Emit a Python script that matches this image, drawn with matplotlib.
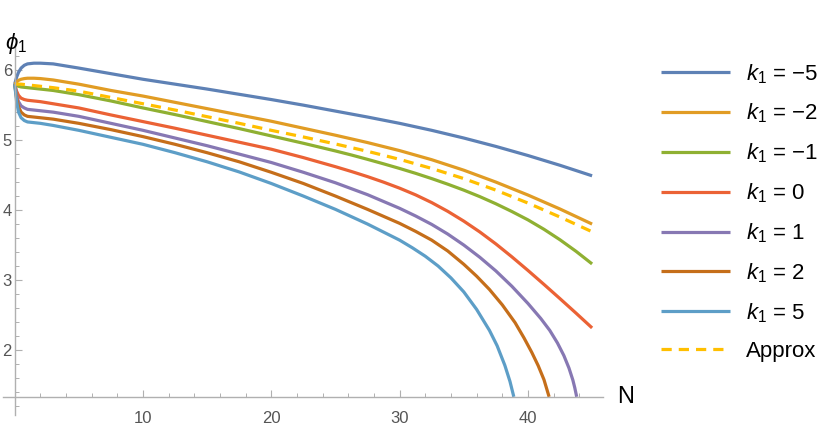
import matplotlib
matplotlib.use("Agg")
import matplotlib.pyplot as plt
from matplotlib.ticker import MultipleLocator

plt.rcParams['font.family'] = ['Liberation Sans', 'DejaVu Sans']
plt.rcParams['mathtext.fontset'] = 'custom'
plt.rcParams['mathtext.rm'] = 'Liberation Sans'
plt.rcParams['mathtext.it'] = 'Liberation Sans:italic'

# ---- data ----
N_main = [0, 0.15, 0.3, 0.5, 0.75, 1, 1.5, 2, 3, 5, 7.5, 10, 12.5, 15, 17.5, 20,
          22.5, 25, 27.5, 30, 32.5, 35, 37.5, 40, 42.5, 45]

phi_km5 = [5.8, 5.9, 5.97, 6.03, 6.07, 6.09, 6.1, 6.1, 6.09, 6.03, 5.95, 5.87, 5.8,
           5.73, 5.655, 5.58, 5.50, 5.415, 5.33, 5.24, 5.14, 5.03, 4.91, 4.78, 4.64,
           4.49]
phi_km2 = [5.8, 5.83, 5.855, 5.87, 5.88, 5.885, 5.885, 5.88, 5.86, 5.8, 5.71, 5.63,
           5.54, 5.45, 5.36, 5.27, 5.17, 5.07, 4.965, 4.85, 4.72, 4.57, 4.40, 4.215,
           4.015, 3.80]
phi_approx = [5.8, 5.8, 5.8, 5.8, 5.795, 5.79, 5.78, 5.77, 5.75, 5.7, 5.61, 5.52,
              5.43, 5.335, 5.24, 5.14, 5.045, 4.945, 4.84, 4.725, 4.595, 4.45, 4.285,
              4.10, 3.90, 3.69]

N_fine = [0, 0.15, 0.3, 0.5, 0.75, 1, 1.5, 2, 3, 5, 7.5, 10, 12.5, 15, 17.5, 20,
          22.5, 25, 26.25, 27.5, 28.75, 30, 31.25, 32.5, 33.75, 35, 36.25, 37.5,
          38.75, 40, 41.25, 42.5, 43.75, 45]
phi_km1 = [5.8, 5.78, 5.77, 5.76, 5.755, 5.75, 5.74, 5.73, 5.71, 5.65, 5.56, 5.46,
           5.365, 5.265, 5.165, 5.06, 4.955, 4.845, 4.787, 4.725, 4.661, 4.595, 4.525,
           4.45, 4.37, 4.285, 4.192, 4.09, 3.979, 3.86, 3.725, 3.575, 3.41, 3.23]
phi_k0 = [5.8, 5.7, 5.64, 5.6, 5.58, 5.57, 5.56, 5.55, 5.52, 5.46, 5.36, 5.265, 5.17,
          5.07, 4.97, 4.87, 4.75, 4.62, 4.551, 4.478, 4.399, 4.313, 4.217, 4.107,
          3.982, 3.842, 3.687, 3.516, 3.331, 3.137, 2.937, 2.733, 2.526, 2.315]

N_k1 = [0, 0.15, 0.3, 0.5, 0.75, 1, 1.5, 2, 3, 5, 7.5, 10, 12.5, 15, 17.5, 20,
        22.5, 25, 27.5, 30, 31.25, 32.5, 33.75, 35, 36.25, 37.5, 38.75, 40, 41, 41.7,
        42.3, 42.8, 43.2, 43.5, 43.65, 43.8]
phi_k1 = [5.8, 5.64, 5.55, 5.49, 5.46, 5.44, 5.43, 5.42, 5.4, 5.34, 5.24, 5.14, 5.03,
          4.92, 4.80, 4.68, 4.54, 4.39, 4.22, 4.025, 3.915, 3.795, 3.657, 3.50, 3.325,
          3.13, 2.91, 2.665, 2.45, 2.28, 2.10, 1.92, 1.74, 1.57, 1.46, 1.33]

N_k2 = [0, 0.15, 0.3, 0.5, 0.75, 1, 1.5, 2, 3, 5, 7.5, 10, 12.5, 15, 17.5, 20,
        22.5, 25, 27.5, 30, 31.25, 32.5, 33.75, 35, 36, 37, 38, 39, 39.7, 40.3, 40.8,
        41.25, 41.65]
phi_k2 = [5.8, 5.6, 5.48, 5.4, 5.36, 5.34, 5.33, 5.32, 5.3, 5.24, 5.15, 5.05, 4.94,
          4.82, 4.69, 4.54, 4.38, 4.20, 4.01, 3.81, 3.695, 3.57, 3.415, 3.225, 3.055,
          2.865, 2.645, 2.39, 2.17, 1.965, 1.775, 1.575, 1.33]

N_k5 = [0, 0.15, 0.3, 0.5, 0.75, 1, 1.5, 2, 3, 5, 7.5, 10, 12.5, 15, 17.5, 20,
        22.5, 25, 27.5, 30, 31, 32, 33, 34, 35, 36, 37, 37.6, 38.2, 38.6, 38.9]
phi_k5 = [5.8, 5.55, 5.4, 5.32, 5.28, 5.26, 5.25, 5.24, 5.21, 5.14, 5.04, 4.94, 4.82,
          4.69, 4.545, 4.38, 4.20, 4.01, 3.80, 3.57, 3.46, 3.34, 3.20, 3.03, 2.83, 2.58,
          2.28, 2.06, 1.78, 1.55, 1.33]

labels = ['$k_1$ = \u22125', '$k_1$ = \u22122', '$k_1$ = \u22121', '$k_1$ = 0',
          '$k_1$ = 1', '$k_1$ = 2', '$k_1$ = 5', 'Approx']
colors = ['#5E81B5', '#E19C24', '#8FB032', '#EB6235', '#8778B3', '#C56E1A',
          '#5D9EC7', '#FFBF00']

series = [(N_main, phi_km5), (N_main, phi_km2), (N_fine, phi_km1), (N_fine, phi_k0),
          (N_k1, phi_k1), (N_k2, phi_k2), (N_k5, phi_k5)]

W, H = 828, 434
fig = plt.figure(figsize=(W / 100, H / 100), dpi=100)
ax_l, ax_r, ax_t, ax_b = 3, 603, 45, 415
ax = fig.add_axes([ax_l / W, 1 - ax_b / H, (ax_r - ax_l) / W, (ax_b - ax_t) / H])

xmin, xmax = -0.91, 45.85
ymin, ymax = 1.07, 6.36
ax.set_xlim(xmin, xmax)
ax.set_ylim(ymin, ymax)

lw = 2.3
handles = []
for (nx, ny), c, lab in zip(series, colors[:7], labels[:7]):
    h, = ax.plot(nx, ny, color=c, lw=lw, label=lab, solid_capstyle='butt',
                 solid_joinstyle='round')
    handles.append(h)
h, = ax.plot(N_main, phi_approx, color=colors[7], lw=lw, ls=(0, (3.2, 2.2)),
             label=labels[7])
handles.append(h)

# axes styling (Mathematica-like)
axis_col = '#b0b0b0'
for s in ['top', 'right']:
    ax.spines[s].set_visible(False)
ax.spines['left'].set_position(('data', 0))
ax.spines['bottom'].set_position(('data', 1.33))
for s in ['left', 'bottom']:
    ax.spines[s].set_color(axis_col)
    ax.spines[s].set_linewidth(1.0)

ax.xaxis.set_major_locator(MultipleLocator(10))
ax.xaxis.set_minor_locator(MultipleLocator(2))
ax.yaxis.set_major_locator(MultipleLocator(1))
ax.yaxis.set_minor_locator(MultipleLocator(0.2))
ax.set_xticks([10, 20, 30, 40])
ax.set_yticks([2, 3, 4, 5, 6])
ax.tick_params(axis='both', which='major', direction='in', length=5, width=0.8,
               color=axis_col, labelsize=12, labelcolor='#555555')
ax.tick_params(axis='both', which='minor', direction='in', length=2.8, width=0.7,
               color=axis_col)
ax.tick_params(axis='x', which='major', pad=10)
ax.tick_params(axis='y', which='major', pad=2)
ax.patch.set_visible(False)

fig.text(617 / W, 1 - 397 / H, 'N', fontsize=17, ha='left', va='center', color='black')
fig.text(5 / W, 1 - 44 / H, r'$\phi_1$', fontsize=16, ha='left', va='center',
         color='black')

fig.legend(handles=handles, labels=labels, loc='upper left',
           bbox_to_anchor=(661 / W, 1 - 62 / H), frameon=False, fontsize=16,
           handlelength=3.1, handletextpad=0.72, labelspacing=0.73,
           borderaxespad=0, borderpad=0)

fig.savefig('out.png', dpi=100)
